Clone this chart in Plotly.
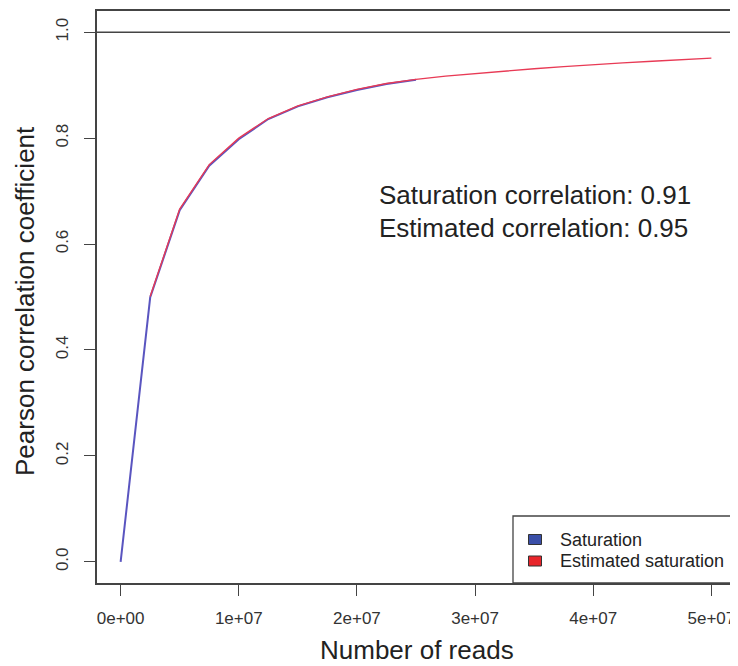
import plotly.graph_objects as go

# ---- data ----
sat_reads = [0, 2.5e6, 5e6, 7.5e6, 1e7, 1.25e7, 1.5e7, 1.75e7, 2e7, 2.25e7, 2.5e7]
sat_corr = [0.0, 0.499, 0.664, 0.748, 0.798, 0.836, 0.860, 0.877, 0.891, 0.902, 0.910]

est_reads = [2.5e6, 5e6, 7.5e6, 1e7, 1.25e7, 1.5e7, 1.75e7, 2e7, 2.25e7, 2.5e7,
             2.75e7, 3e7, 3.25e7, 3.5e7, 3.75e7, 4e7, 4.25e7, 4.5e7, 4.75e7, 5e7]
est_corr = [0.501, 0.666, 0.750, 0.800, 0.837, 0.861, 0.878, 0.892, 0.903, 0.911,
            0.917, 0.922, 0.927, 0.931, 0.935, 0.939, 0.942, 0.945, 0.948, 0.951]

x_ticks = [0, 1e7, 2e7, 3e7, 4e7, 5e7]
x_ticklabels = ["0e+00", "1e+07", "2e+07", "3e+07", "4e+07", "5e+07"]
y_ticks = [0.0, 0.2, 0.4, 0.6, 0.8, 1.0]
y_ticklabels = ["0.0", "0.2", "0.4", "0.6", "0.8", "1.0"]

legend_names = ["Saturation", "Estimated saturation"]
legend_colors = ["#3a4fa8", "#e8252b"]
annot_lines = ["Saturation correlation: 0.91", "Estimated correlation: 0.95"]

FONT = "Liberation Sans, Arial, Helvetica, sans-serif"

fig = go.Figure()
fig.add_trace(go.Scatter(x=sat_reads, y=sat_corr, mode="lines",
                         line=dict(color="#5a55c0", width=2), showlegend=False))
fig.add_trace(go.Scatter(x=est_reads, y=est_corr, mode="lines",
                         line=dict(color="#e83a55", width=1.4), showlegend=False))

# horizontal reference line at 1.0
fig.add_shape(type="line", xref="paper", x0=0, x1=1, yref="y", y0=1, y1=1,
              line=dict(color="#444", width=1.5))

# page body has an 8px margin; work in window pixels and shift
OFF = 8
WIN_W, WIN_H = 738, 666
W, H = WIN_W - OFF, WIN_H - OFF
plot_left, plot_right, plot_top, plot_bottom = 97, 735, 11, 583
L = plot_left - OFF
R = W - (plot_right - OFF)
T = plot_top - OFF
B = H - (plot_bottom - OFF)
pw, ph = plot_right - plot_left, plot_bottom - plot_top

def px(xp):
    return (xp - plot_left) / pw

def py(yp):
    return (plot_bottom - yp) / ph

# legend box
fig.add_shape(type="rect", xref="paper", yref="paper",
              x0=px(513), x1=1, y0=0, y1=py(516),
              line=dict(color="#444", width=1.3), fillcolor="white")
for i, (name, col) in enumerate(zip(legend_names, legend_colors)):
    cy = 539.5 + i * 21.5
    fig.add_shape(type="rect", xref="paper", yref="paper",
                  x0=px(528.5), x1=px(541.5), y0=py(cy + 5), y1=py(cy - 5),
                  line=dict(color="#333", width=1), fillcolor=col)
    fig.add_annotation(xref="paper", yref="paper", x=px(558), y=py(cy),
                       text=name, showarrow=False, xanchor="left", yanchor="middle",
                       font=dict(family=FONT, size=18, color="#222"))

for i, t in enumerate(annot_lines):
    fig.add_annotation(xref="paper", yref="paper", x=px(377), y=py(195 + i * 33),
                       text=t, showarrow=False, xanchor="left", yanchor="middle",
                       font=dict(family=FONT, size=26, color="#222"))

# axis titles
fig.add_annotation(xref="paper", yref="paper", x=px(417), y=py(650),
                   text="Number of reads", showarrow=False,
                   xanchor="center", yanchor="middle",
                   font=dict(family=FONT, size=26, color="#222"))
fig.add_annotation(xref="paper", yref="paper", x=px(25), y=py(301),
                   text="Pearson correlation coefficient", showarrow=False,
                   textangle=-90, xanchor="center", yanchor="middle",
                   font=dict(family=FONT, size=26, color="#222"))

fig.update_xaxes(range=[-0.2e7, 5.2e7], tickvals=x_ticks, ticktext=x_ticklabels,
                 showgrid=False, zeroline=False, showline=True, mirror=True,
                 linecolor="#444", linewidth=1.5, ticks="outside", ticklen=11,
                 tickcolor="#444", tickwidth=1.3, ticklabelstandoff=8,
                 tickfont=dict(family=FONT, size=17, color="#333"))
fig.update_yaxes(range=[-0.04, 1.04], tickvals=y_ticks, ticktext=y_ticklabels,
                 showgrid=False, zeroline=False, showline=True, mirror=True,
                 linecolor="#444", linewidth=1.5, ticks="outside", ticklen=11,
                 tickcolor="#444", tickwidth=1.3, tickangle=-90,
                 ticklabelstandoff=9,
                 tickfont=dict(family=FONT, size=17, color="#333"))

fig.update_layout(width=W, height=H, margin=dict(l=L, r=R, t=T, b=B, autoexpand=False),
                  plot_bgcolor="white", paper_bgcolor="white", showlegend=False)

fig.write_html("out.html")
